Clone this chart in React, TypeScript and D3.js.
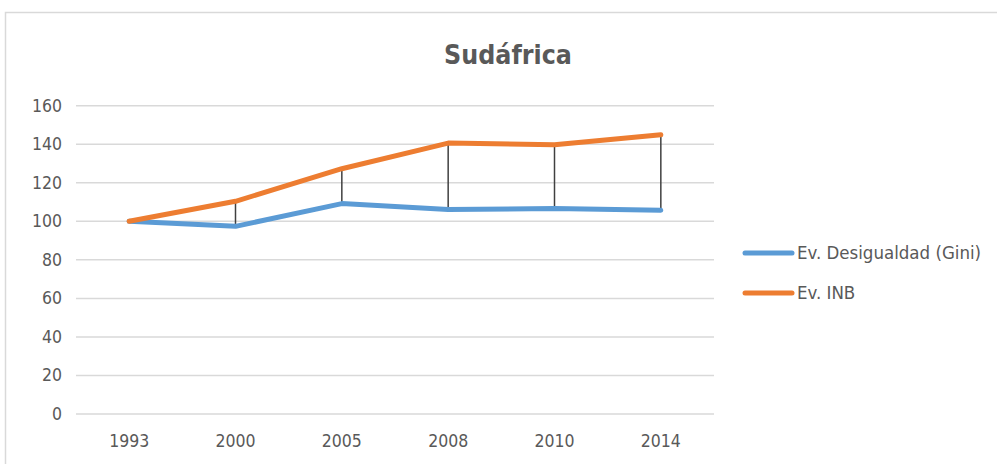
import React from "react";
import * as d3 from "d3";

const categories = ["1993", "2000", "2005", "2008", "2010", "2014"];
const giniValues = [100, 97.4, 109.2, 106.1, 106.6, 105.7];
const inbValues = [100, 110.4, 127.3, 140.6, 139.7, 144.9];
const yTicks = [0, 20, 40, 60, 80, 100, 120, 140, 160];
const seriesNames = ["Ev. Desigualdad (Gini)", "Ev. INB"];
const seriesColors = ["#5B9BD5", "#ED7D31"];

const W = 997;
const H = 464;
const FONT = "'Liberation Sans Narrow', 'DejaVu Sans Condensed', 'Liberation Sans', sans-serif";

export default function App() {
  const plot = { left: 76, right: 714, top: 105.7, bottom: 414 };
  const x = d3.scaleBand<string>().domain(categories).range([plot.left, plot.right]);
  const y = d3.scaleLinear().domain([0, 160]).range([plot.bottom, plot.top]);
  const cx = (c: string) => (x(c) as number) + x.bandwidth() / 2;

  const line = d3
    .line<number>()
    .x((_, i) => cx(categories[i]))
    .y((v) => y(v));

  const series = [giniValues, inbValues];

  return (
    <svg
      width={W}
      height={H}
      style={{ position: "absolute", left: 0, top: 0, background: "#fff" }}
      fontFamily={FONT}
    >
      <rect x={0} y={0} width={W} height={H} fill="#fff" />
      <rect x={5.5} y={12.5} width={W + 10} height={H + 10} fill="#fff" stroke="#D9D9D9" strokeWidth={1.5} />
      <text x={508} y={64} textAnchor="middle" fontSize={26.5} fontWeight="bold" fill="#595959">
        Sudáfrica
      </text>
      {yTicks.map((t) => (
        <g key={t}>
          <line x1={plot.left} x2={plot.right} y1={y(t)} y2={y(t)} stroke="#D9D9D9" strokeWidth={1.5} />
          <text x={62} y={y(t) + 6} textAnchor="end" fontSize={17.5} fill="#595959">
            {t}
          </text>
        </g>
      ))}
      {categories.map((c) => (
        <text key={c} x={cx(c)} y={447} textAnchor="middle" fontSize={17.5} fill="#595959">
          {c}
        </text>
      ))}
      {categories.map((c, i) => (
        <line
          key={"hl" + c}
          x1={cx(c)}
          x2={cx(c)}
          y1={y(giniValues[i])}
          y2={y(inbValues[i])}
          stroke="#404040"
          strokeWidth={1.5}
        />
      ))}
      {series.map((s, i) => (
        <path key={i} d={line(s) || ""} fill="none" stroke={seriesColors[i]} strokeWidth={5} strokeLinecap="round" strokeLinejoin="round" />
      ))}
      {seriesNames.map((n, i) => (
        <g key={n} transform={`translate(0, ${253 + i * 40})`}>
          <line x1={745} x2={792} y1={0} y2={0} stroke={seriesColors[i]} strokeWidth={5} strokeLinecap="round" />
          <text x={797} y={6} fontSize={18.5} fill="#595959">
            {n}
          </text>
        </g>
      ))}
    </svg>
  );
}
